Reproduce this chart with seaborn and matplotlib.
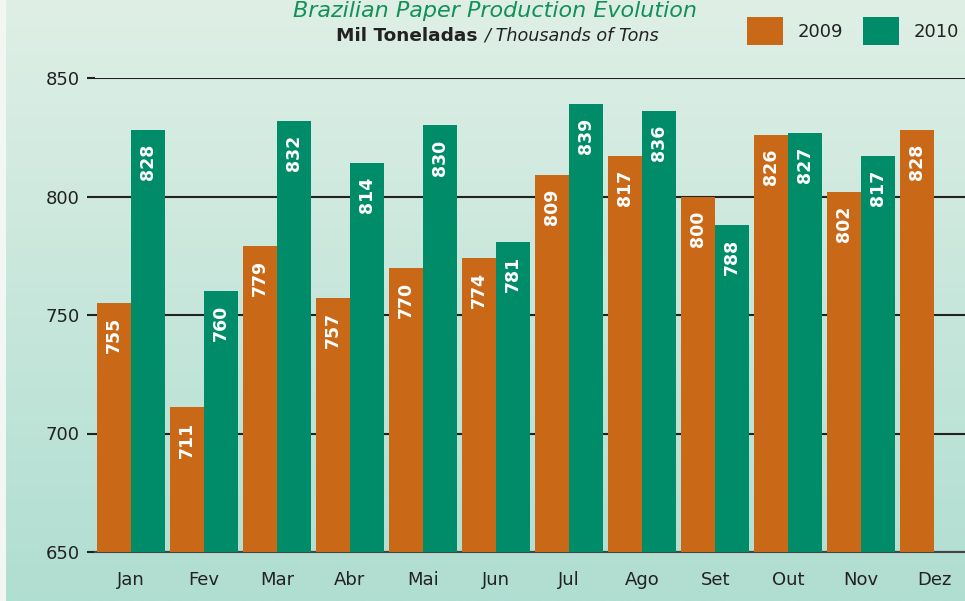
import numpy as np
import pandas as pd
import seaborn as sns
import matplotlib.pyplot as plt

# data
months = ["Jan", "Fev", "Mar", "Abr", "Mai", "Jun", "Jul", "Ago", "Set", "Out", "Nov", "Dez"]
prod_2009 = [755, 711, 779, 757, 770, 774, 809, 817, 800, 826, 802, 828]
prod_2010 = [828, 760, 832, 814, 830, 781, 839, 836, 788, 827, 817, np.nan]
years = ["2009", "2010"]
y_ticks = [650, 700, 750, 800, 850]

orange = "#c96918"
green = "#008c68"
dark = "#222222"

df = pd.DataFrame({
    "month": months * 2,
    "year": [years[0]] * 12 + [years[1]] * 12,
    "value": prod_2009 + prod_2010,
})

sns.set_theme(style="white")
plt.rcParams["font.family"] = ["DejaVu Sans"]

fig = plt.figure(figsize=(9.65, 6.01), dpi=100)
fig.patch.set_facecolor("#f2f7f3")

# background gradient panel
bg = fig.add_axes([6 / 965, 0, 1 - 6 / 965, 1], zorder=-5)
top_c = np.array([0xdf, 0xef, 0xe6]) / 255
bot_c = np.array([0xb0, 0xde, 0xd1]) / 255
t = np.linspace(0, 1, 256)[:, None]
grad = (top_c[None, :] * (1 - t) + bot_c[None, :] * t)[:, None, :]
bg.imshow(grad, aspect="auto", extent=[0, 1, 0, 1])
bg.axis("off")

ax = fig.add_axes([95 / 965, 1 - 552 / 601, 1 - 95 / 965, (552 - 78) / 601])
ax.patch.set_alpha(0)

sns.barplot(data=df, x="month", y="value", hue="year", order=months,
            hue_order=years, palette=[orange, green], width=0.93,
            saturation=1, errorbar=None, linewidth=0, ax=ax, zorder=3)

ax.set_ylim(650, 850)
ax.set_xlim(-0.49, 11.42)
ax.set_yticks(y_ticks)
ax.yaxis.grid(True, color=dark, linewidth=1.5, zorder=0)
ax.set_axisbelow(True)
for s in ["top", "right", "left"]:
    ax.spines[s].set_visible(False)
ax.spines["bottom"].set_color("#444444")
ax.spines["bottom"].set_linewidth(1.5)
ax.tick_params(axis="y", length=6, width=1.5, color=dark, labelsize=13,
               labelcolor=dark, pad=5, left=True)
ax.tick_params(axis="x", length=0, labelsize=13, labelcolor=dark, pad=14)
ax.set_xlabel("")
ax.set_ylabel("")

# value labels inside the bars
for cont in ax.containers:
    for bar in cont:
        h = bar.get_height()
        if np.isnan(h):
            continue
        ax.annotate(f"{h:.0f}", (bar.get_x() + bar.get_width() / 2, h),
                    xytext=(0, -10), textcoords="offset points",
                    ha="center", va="top", rotation=90, color="white",
                    fontsize=12.5, fontweight="bold", zorder=5)

# legend
handles, labels = ax.get_legend_handles_labels()
ax.legend(handles, labels, ncol=2, frameon=False, fontsize=13,
          loc="center left", bbox_to_anchor=(747 / 965, 1 - 31 / 601),
          bbox_transform=fig.transFigure, borderpad=0, borderaxespad=0,
          handlelength=2.0, handleheight=2.0, handletextpad=0.8,
          columnspacing=1.1, labelcolor=dark)

# titles
fig.text(495 / 965, 1 - 17 / 601, "Brazilian Paper Production Evolution",
         ha="center", va="baseline", fontsize=16, style="italic",
         color="#129058")
fig.text(478 / 965, 1 - 41 / 601, "Mil Toneladas", ha="right",
         va="baseline", fontsize=13.3, fontweight="bold", color=dark)
fig.text(484 / 965, 1 - 41 / 601, "/ Thousands of Tons", ha="left",
         va="baseline", fontsize=12.7, style="italic", color=dark)

fig.savefig("out.png", dpi=100)
